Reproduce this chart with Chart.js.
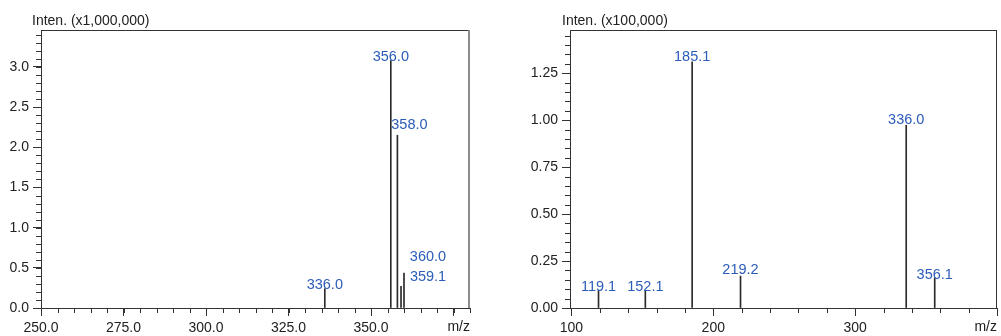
<!DOCTYPE html>
<html lang="en">
<head>
<meta charset="UTF-8">
<title>Mass spectra</title>
<script src="https://cdn.jsdelivr.net/npm/chart.js"></script>
<style>
  html, body { margin: 0; padding: 0; background: #fff; }
  .wrap { position: relative; width: 1001px; height: 336px; }
  canvas { position: absolute; top: 0; }
  #specLeft { left: 0; }
  #specRight { left: 500px; }
</style>
</head>
<body>
<div class="wrap">
  <canvas id="specLeft" width="500" height="336"></canvas>
  <canvas id="specRight" width="501" height="336"></canvas>
</div>
<script>
// left spectrum, intensity x1,000,000
const leftMz = [336.0, 356.0, 358.0, 359.1, 360.0];
const leftInten = [0.24, 3.08, 2.15, 0.27, 0.435];
const leftPeakLabels = ['336.0', '356.0', '358.0', '359.1', '360.0'];
const leftXTicks = [250, 275, 300, 325, 350, 375];
const leftXTickLabels = ['250.0', '275.0', '300.0', '325.0', '350.0', ''];
const leftYTicks = [0, 0.5, 1.0, 1.5, 2.0, 2.5, 3.0];
const leftYTickLabels = ['0.0', '0.5', '1.0', '1.5', '2.0', '2.5', '3.0'];

// right spectrum, intensity x100,000
const rightMz = [119.1, 152.1, 185.1, 219.2, 336.0, 356.1];
const rightInten = [0.092, 0.092, 1.31, 0.17, 0.973, 0.16];
const rightPeakLabels = ['119.1', '152.1', '185.1', '219.2', '336.0', '356.1'];
const rightXTicks = [100, 200, 300, 400];
const rightXTickLabels = ['100', '200', '300', ''];
const rightYTicks = [0, 0.25, 0.5, 0.75, 1.0, 1.25];
const rightYTickLabels = ['0.00', '0.25', '0.50', '0.75', '1.00', '1.25'];

const FONT = '"Liberation Sans", Arial, sans-serif';
Chart.defaults.font.family = FONT;
Chart.defaults.font.size = 14;
Chart.defaults.color = '#222';

// frame, minor ticks, peak labels and the intensity caption
const spectrumDecor = {
    id: 'spectrumDecor',
    afterDatasetsDraw(chart, args, opts) {
        const ctx = chart.ctx;
        const a = chart.chartArea;
        const xs = chart.scales.x, ys = chart.scales.y;
        ctx.save();

        ctx.lineWidth = 1;
        ctx.strokeStyle = '#333';
        ctx.beginPath();
        ctx.moveTo(a.left, a.top + 0.5);
        ctx.lineTo(a.right, a.top + 0.5);
        ctx.stroke();
        ctx.lineWidth = opts.rightWidth;
        ctx.strokeStyle = opts.rightColor;
        ctx.beginPath();
        ctx.moveTo(a.right - opts.rightWidth / 2, a.top);
        ctx.lineTo(a.right - opts.rightWidth / 2, a.bottom);
        ctx.stroke();

        ctx.lineWidth = 1;
        ctx.strokeStyle = '#333';
        ctx.beginPath();
        for (let k = Math.ceil(xs.min / opts.minorX); k * opts.minorX <= xs.max + 1e-9; k++) {
            const px = Math.round(xs.getPixelForValue(k * opts.minorX)) + 0.5;
            ctx.moveTo(px, a.bottom);
            ctx.lineTo(px, a.bottom + 5);
        }
        for (let k = 0; k * opts.minorY <= ys.max + 1e-9; k++) {
            const py = Math.round(ys.getPixelForValue(k * opts.minorY)) + 0.5;
            ctx.moveTo(a.left, py);
            ctx.lineTo(a.left - 5, py);
        }
        ctx.stroke();

        const meta = chart.getDatasetMeta(0);
        ctx.font = '14.5px ' + FONT;
        ctx.fillStyle = '#2b5cb8';
        ctx.textAlign = 'center';
        ctx.textBaseline = 'middle';
        meta.data.forEach((bar, i) => {
            const off = opts.labelOffsets[i] || [0, -5];
            ctx.fillText(opts.labels[i], bar.x + off[0], bar.y + off[1]);
        });

        ctx.font = '14px ' + FONT;
        ctx.fillStyle = '#222';
        ctx.textAlign = 'left';
        ctx.textBaseline = 'alphabetic';
        ctx.fillText(opts.yTitle, opts.yTitleX, 25);
        ctx.restore();
    }
};

function makeSpectrum(canvasId, mz, inten, cfg) {
    const xTicks = cfg.xTicks, yTicks = cfg.yTicks;
    return new Chart(document.getElementById(canvasId), {
        type: 'bar',
        data: {
            datasets: [{
                data: mz.map((m, i) => ({ x: m, y: inten[i] })),
                backgroundColor: '#2a2a2a',
                barThickness: 1
            }]
        },
        plugins: [spectrumDecor],
        options: {
            responsive: false,
            animation: false,
            devicePixelRatio: 1,
            layout: { padding: { top: 30, right: cfg.padRight, left: 0, bottom: 0 } },
            plugins: {
                legend: { display: false },
                tooltip: { enabled: false },
                spectrumDecor: {
                    labels: cfg.peakLabels,
                    labelOffsets: cfg.labelOffsets,
                    minorX: cfg.minorX,
                    minorY: cfg.minorY,
                    rightColor: cfg.rightColor,
                    rightWidth: cfg.rightWidth,
                    yTitle: cfg.yTitle,
                    yTitleX: cfg.yTitleX
                }
            },
            scales: {
                x: {
                    type: 'linear',
                    min: cfg.xMin,
                    max: cfg.xMax,
                    offset: false,
                    afterBuildTicks: s => { s.ticks = xTicks.map(v => ({ value: v })); },
                    afterFit: s => { s.height = 28; },
                    grid: { offset: false, drawOnChartArea: false, drawTicks: true, tickLength: 8, tickColor: '#333' },
                    border: { display: true, color: '#333', width: 1 },
                    ticks: {
                        autoSkip: false,
                        maxRotation: 0,
                        padding: 4,
                        color: '#222',
                        callback: (v, i) => cfg.xTickLabels[i]
                    },
                    title: { display: true, text: 'm/z', align: 'end', padding: 0, color: '#222', font: { size: 14 } }
                },
                y: {
                    min: 0,
                    max: cfg.yMax,
                    afterBuildTicks: s => { s.ticks = yTicks.map(v => ({ value: v })); },
                    afterFit: s => { s.width = cfg.yWidth; },
                    grid: { drawOnChartArea: false, drawTicks: true, tickLength: 8, tickColor: '#333' },
                    border: { display: true, color: '#333', width: 1 },
                    ticks: {
                        autoSkip: false,
                        padding: 4,
                        color: '#222',
                        callback: (v, i) => cfg.yTickLabels[i]
                    }
                }
            }
        }
    });
}

makeSpectrum('specLeft', leftMz, leftInten, {
    xMin: 250, xMax: 380, yMax: 3.46,
    xTicks: leftXTicks, xTickLabels: leftXTickLabels,
    yTicks: leftYTicks, yTickLabels: leftYTickLabels,
    peakLabels: leftPeakLabels,
    labelOffsets: [[0, -4], [0, -4], [12, -10], [27, -9], [24, -16]],
    minorX: 5, minorY: 0.1,
    yWidth: 41, padRight: 30,
    rightColor: '#8c8c8c', rightWidth: 2,
    yTitle: 'Inten. (x1,000,000)', yTitleX: 32
});

makeSpectrum('specRight', rightMz, rightInten, {
    xMin: 99, xMax: 400, yMax: 1.48,
    xTicks: rightXTicks, xTickLabels: rightXTickLabels,
    yTicks: rightYTicks, yTickLabels: rightYTickLabels,
    peakLabels: rightPeakLabels,
    labelOffsets: [[0, -4], [0, -4], [0, -5], [0, -6], [0, -5], [0, -3]],
    minorX: 20, minorY: 0.05,
    yWidth: 70, padRight: 2,
    rightColor: '#333', rightWidth: 1,
    yTitle: 'Inten. (x100,000)', yTitleX: 62
});
</script>
</body>
</html>
